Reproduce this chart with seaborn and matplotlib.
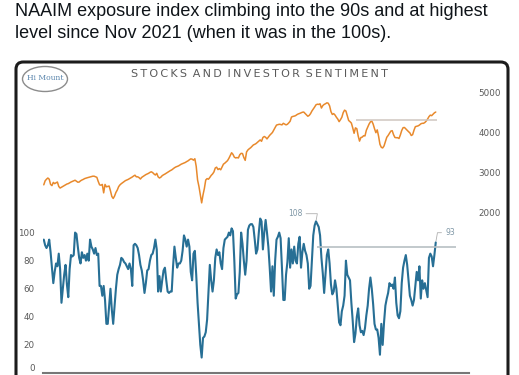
# plot.py
# Recreación del gráfico "Stocks and Investor Sentiment" (S&P 500 vs NAAIM)

import matplotlib
matplotlib.use("Agg")
import matplotlib.pyplot as plt
import matplotlib.dates as mdates
from matplotlib.patches import FancyBboxPatch, Ellipse
import seaborn as sns
import pandas as pd

# datos semanales (ene 2018 - jul 2023)
naaim = [
    95, 91, 89, 91, 95, 86, 75, 64, 72, 78,
    76, 85, 74, 50, 60, 70, 77, 63, 54, 74,
    84, 83, 84, 100, 99, 90, 82, 78, 86, 82,
    84, 80, 85, 80, 95, 90, 88, 85, 89, 84,
    85, 62, 62, 55, 62, 52, 35, 35, 48, 60,
    45, 35, 48, 60, 70, 74, 77, 82, 81, 79,
    78, 76, 74, 78, 74, 62, 91, 92, 91, 89,
    84, 77, 73, 66, 57, 64, 73, 74, 80, 84,
    85, 89, 95, 88, 58, 69, 58, 66, 73, 75,
    66, 58, 57, 58, 58, 76, 90, 82, 75, 78,
    78, 80, 87, 98, 95, 90, 95, 90, 72, 66,
    85, 87, 70, 50, 35, 20, 11, 25, 26, 29,
    38, 57, 77, 66, 58, 66, 82, 88, 84, 86,
    78, 74, 89, 95, 96, 97, 100, 98, 103, 101,
    80, 53, 56, 57, 72, 100, 92, 80, 70, 80,
    102, 105, 106, 106, 104, 95, 85, 88, 100, 110,
    108, 88, 100, 109, 100, 90, 75, 58, 76, 55,
    80, 95, 97, 100, 96, 75, 52, 52, 70, 79,
    96, 75, 88, 78, 90, 80, 78, 92, 97, 75,
    86, 92, 87, 84, 78, 60, 62, 80, 98, 105,
    108, 106, 104, 98, 82, 71, 57, 70, 84, 88,
    78, 63, 56, 58, 66, 60, 48, 36, 34, 44,
    48, 55, 80, 70, 68, 66, 50, 37, 22, 28,
    40, 46, 34, 29, 30, 27, 32, 41, 48, 60,
    68, 60, 49, 35, 31, 31, 25, 13, 35, 20,
    36, 48, 53, 57, 64, 62, 63, 60, 68, 50,
    41, 39, 44, 64, 75, 80, 84, 77, 66, 55,
    52, 48, 52, 62, 72, 66, 76, 53, 66, 60,
    64, 59, 54, 82, 85, 83, 76, 84, 93,
]

spx = [
    2690, 2790, 2830, 2860, 2830, 2700, 2670, 2750, 2720, 2740,
    2760, 2650, 2610, 2630, 2650, 2670, 2690, 2710, 2720, 2740,
    2760, 2775, 2790, 2805, 2780, 2755, 2760, 2790, 2810, 2825,
    2845, 2857, 2867, 2877, 2885, 2895, 2905, 2905, 2890, 2877,
    2775, 2690, 2680, 2700, 2490, 2700, 2640, 2650, 2660, 2540,
    2400, 2350, 2410, 2500, 2560, 2644, 2690, 2720, 2745, 2770,
    2795, 2810, 2825, 2845, 2865, 2885, 2910, 2930, 2890, 2890,
    2870, 2835, 2877, 2900, 2925, 2945, 2962, 2977, 3000, 3015,
    2995, 2960, 2935, 2977, 2890, 2860, 2880, 2918, 2940, 2958,
    2980, 3005, 3025, 3045, 3062, 3090, 3115, 3135, 3150, 3162,
    3185, 3205, 3220, 3232, 3248, 3270, 3288, 3315, 3337, 3330,
    3305, 3340, 3150, 2810, 2650, 2437, 2240, 2440, 2600, 2810,
    2845, 2830, 2875, 2925, 2960, 3010, 3110, 3130, 3070, 3095,
    3065, 3135, 3205, 3230, 3260, 3293, 3350, 3420, 3490, 3450,
    3380, 3360, 3370, 3360, 3440, 3475, 3470, 3370, 3300, 3510,
    3560, 3590, 3615, 3650, 3685, 3700, 3720, 3750, 3780, 3810,
    3775, 3870, 3895, 3875, 3835, 3880, 3925, 3960, 3995, 4060,
    4120, 4180, 4190, 4200, 4195, 4185, 4224, 4205, 4185, 4200,
    4235, 4275, 4380, 4395, 4403, 4415, 4440, 4458, 4470, 4485,
    4500, 4505, 4470, 4435, 4400, 4420, 4465, 4530, 4580, 4630,
    4685, 4700, 4695, 4710, 4605, 4665, 4695, 4712, 4735, 4725,
    4660, 4515, 4445, 4465, 4430, 4375, 4330, 4265, 4315, 4375,
    4490, 4552, 4530, 4410, 4295, 4265, 4230, 4110, 3975, 4110,
    4090, 3910, 3780, 3870, 3880, 3915, 3910, 4050, 4125, 4205,
    4260, 4280, 4205, 4090, 3990, 4060, 3900, 3700, 3625, 3610,
    3660, 3768, 3875, 3920, 3975, 4030, 4040, 3940, 3870, 3865,
    3865, 3845, 3935, 4045, 4115, 4120, 4085, 4050, 4016, 3985,
    3920, 3940, 4050, 4140, 4150, 4160, 4180, 4210, 4224, 4224,
    4245, 4280, 4330, 4390, 4428, 4415, 4450, 4485, 4505,
]

weeks = pd.date_range("2018-01-05", periods=len(naaim), freq="7D")

spx_ticks = [2000, 3000, 4000, 5000]
naaim_ticks = [0, 20, 40, 60, 80, 100]
spx_ref = (4305, "2022-06-01", "2023-07-20")
naaim_ref = (90, "2021-11-10", "2023-10-25")

tweet = ["NAAIM exposure index climbing into the 90s and at highest",
         "level since Nov 2021 (when it was in the 100s)."]
title = "STOCKS AND INVESTOR SENTIMENT"

ORANGE = "#e8892c"
BLUE = "#276f95"
GRAY = "#5a5a5a"

sns.set_style("white")
plt.rcParams["font.family"] = ["DejaVu Sans"]

W, H = 519, 375


def fx(px):
    return px / W


def fy(py):
    return 1 - py / H


fig = plt.figure(figsize=(W / 100, H / 100), dpi=100)
fig.patch.set_facecolor("white")

# texto del tweet
fig.text(fx(15), fy(16), tweet[0], fontsize=13, family="Liberation Sans",
         color="#0f1419", va="baseline")
fig.text(fx(15), fy(37.5), tweet[1], fontsize=13, family="Liberation Sans",
         color="#0f1419", va="baseline")

# marco de la imagen
box = FancyBboxPatch((fx(16), -0.1), fx(508) - fx(16), fy(62) + 0.1,
                     boxstyle="round,pad=0,rounding_size=0.014",
                     mutation_aspect=W / H, transform=fig.transFigure,
                     fc="white", ec="#1c1c1c", lw=2.2, zorder=-2)
fig.patches.append(box)

# logo
fig.patches.append(Ellipse((fx(45), fy(79)), 45 / W, 25 / H, transform=fig.transFigure,
                           fill=False, ec="#8c8c8c", lw=1, zorder=-1))
fig.text(fx(45), fy(77.5), "Hi Mount", fontsize=5.5, family="DejaVu Serif",
         color="#5b86ad", ha="center", va="center")

spaced = "\u2009 ".join("\u2009".join(w) for w in title.split())
fig.text(fx(259), fy(74), spaced, fontsize=8, color=GRAY, ha="center", va="center")

x0, x1 = pd.Timestamp("2018-01-01"), pd.Timestamp("2024-01-01")

# panel superior: S&P 500
ax_top = fig.add_axes([fx(43), fy(222), fx(469) - fx(43), (222 - 82) / H])
ax_top.patch.set_alpha(0)
sns.lineplot(x=weeks, y=spx, ax=ax_top, color=ORANGE, lw=1.1)
ax_top.hlines(spx_ref[0], pd.Timestamp(spx_ref[1]), pd.Timestamp(spx_ref[2]),
              color="#cfc6c0", lw=1.1)
ax_top.set_xlim(x0, x1)
ax_top.set_ylim(1763, 5254)
ax_top.set_yticks(spx_ticks)
ax_top.yaxis.tick_right()
ax_top.tick_params(axis="y", length=0, pad=7, labelsize=6.3, labelcolor=GRAY)
ax_top.xaxis.set_visible(False)
ax_top.set(xlabel="", ylabel="")
for s in ax_top.spines.values():
    s.set_visible(False)

# panel inferior: NAAIM
ax_bot = fig.add_axes([fx(43), fy(373), fx(469) - fx(43), (373 - 200) / H])
ax_bot.patch.set_alpha(0)
sns.lineplot(x=weeks, y=naaim, ax=ax_bot, color=BLUE, lw=1.5)
ax_bot.hlines(naaim_ref[0], pd.Timestamp(naaim_ref[1]), pd.Timestamp(naaim_ref[2]),
              color="#b8c0c4", lw=1.2)
ax_bot.set_xlim(x0, x1)
ax_bot.set_ylim(0, 123.2)
ax_bot.set_yticks(naaim_ticks)
ax_bot.tick_params(axis="y", length=0, pad=6, labelsize=6.3, labelcolor=GRAY)
ax_bot.get_yticklabels()[0].set_va("bottom")
ax_bot.xaxis.set_major_locator(mdates.YearLocator())
ax_bot.tick_params(axis="x", length=3, color="#777777", labelbottom=False)
ax_bot.set(xlabel="", ylabel="")
for side in ["left", "top", "right"]:
    ax_bot.spines[side].set_visible(False)
ax_bot.spines["bottom"].set_color("#777777")
ax_bot.spines["bottom"].set_linewidth(1.5)

ax_bot.annotate("108", xy=(weeks[200], naaim[200]), xytext=(-10, 5.5),
                textcoords="offset points", fontsize=5.5, color="#7f97a6",
                ha="right", va="center",
                arrowprops=dict(arrowstyle="-", color="#b0b0b0", lw=0.6,
                                shrinkA=0.5, shrinkB=1,
                                connectionstyle="angle,angleA=0,angleB=80"))
ax_bot.annotate("93", xy=(weeks[-1], naaim[-1]), xytext=(7, 7),
                textcoords="offset points", fontsize=5.5, color="#7f97a6",
                ha="left", va="center",
                arrowprops=dict(arrowstyle="-", color="#b0b0b0", lw=0.6,
                                shrinkA=0.5, shrinkB=1,
                                connectionstyle="angle,angleA=0,angleB=80"))

fig.savefig("out.png", dpi=100)
